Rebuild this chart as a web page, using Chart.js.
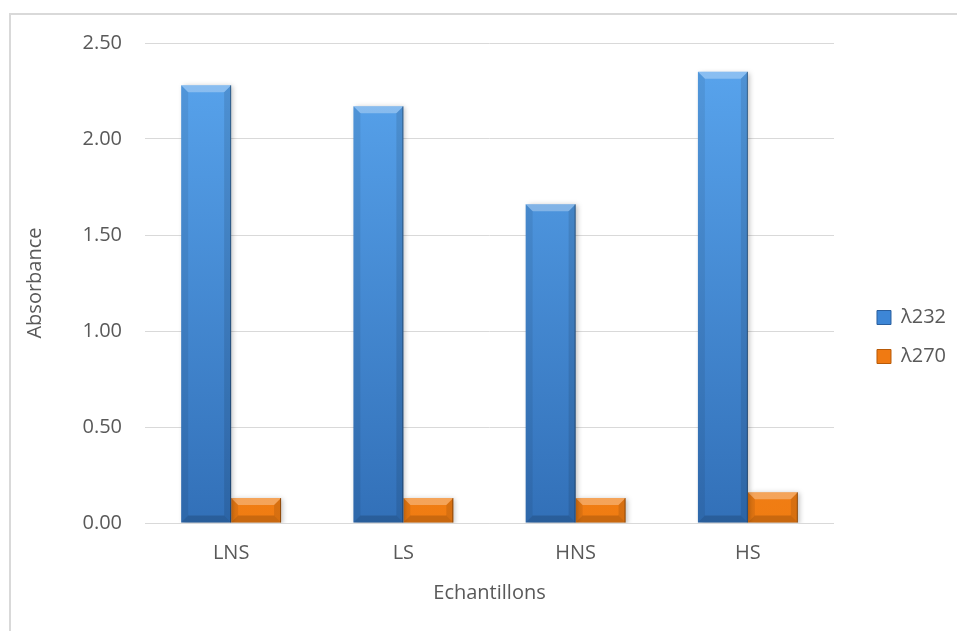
<!DOCTYPE html>
<html>
<head>
<meta charset="utf-8">
<script src="https://cdn.jsdelivr.net/npm/chart.js@4"></script>
<style>
  html, body { margin: 0; padding: 0; background: #fff; overflow: hidden; }
  #frame { position: absolute; left: 9px; top: 13px; width: 1000px; height: 700px;
           border-left: 2px solid #d9d9d9; border-top: 2px solid #d9d9d9; }
  #wrap { position: absolute; left: 0; top: 0; width: 957px; height: 631px; }
</style>
</head>
<body>
<div id="frame"></div>
<div id="wrap"><canvas id="c"></canvas></div>
<script>
// Samples and UV absorbance at 232 nm and 270 nm
const categories = ['LNS', 'LS', 'HNS', 'HS'];
const lambda232 = [2.28, 2.17, 1.66, 2.35];
const lambda270 = [0.13, 0.13, 0.13, 0.16];
const seriesNames = ['λ232', 'λ270'];
const yTicks = [0, 0.5, 1, 1.5, 2, 2.5];

const TEXT = '#595959';
const GRID = '#d9d9d9';
const FONT = "'Open Sans', 'DejaVu Sans', sans-serif";

const palettes = [
  { top: '#5aa6ef', bottom: '#3270b8', legend: '#3d86d6', edge: '#2a5f9e' },
  { top: '#f7902a', bottom: '#f07c12', legend: '#f07a12', edge: '#b85a08' }
];

function verticalGradient(i) {
  return (ctx) => {
    const ca = ctx.chart.chartArea;
    if (!ca) return palettes[i].bottom;
    const g = ctx.chart.ctx.createLinearGradient(0, ca.top, 0, ca.bottom);
    g.addColorStop(0, palettes[i].top);
    g.addColorStop(1, palettes[i].bottom);
    return g;
  };
}

function poly(ctx, pts, fill) {
  ctx.beginPath();
  ctx.moveTo(pts[0][0], pts[0][1]);
  for (let k = 1; k < pts.length; k++) ctx.lineTo(pts[k][0], pts[k][1]);
  ctx.closePath();
  ctx.fillStyle = fill;
  ctx.fill();
}

// Soft drop shadow under each bar plus a bevelled face on top of it
const bevelPlugin = {
  id: 'bevel',
  beforeDatasetDraw(chart) {
    const ctx = chart.ctx;
    ctx.save();
    ctx.shadowColor = 'rgba(0,0,0,0.25)';
    ctx.shadowBlur = 5;
    ctx.shadowOffsetX = 2;
    ctx.shadowOffsetY = 1;
  },
  afterDatasetDraw(chart, args) {
    const ctx = chart.ctx;
    ctx.restore();
    args.meta.data.forEach((bar) => {
      const { x, y, base, width } = bar.getProps(['x', 'y', 'base', 'width'], true);
      const l = x - width / 2, r = x + width / 2, t = Math.min(y, base), b0 = Math.max(y, base);
      const h = b0 - t;
      const b = Math.min(7, h / 2, width / 2);
      ctx.save();
      poly(ctx, [[l, t], [r, t], [r - b, t + b], [l + b, t + b]], 'rgba(255,255,255,0.3)');
      poly(ctx, [[l, t], [l + b, t + b], [l + b, b0 - b], [l, b0]], 'rgba(0,0,0,0.07)');
      poly(ctx, [[r, t], [r, b0], [r - b, b0 - b], [r - b, t + b]], 'rgba(0,0,0,0.10)');
      poly(ctx, [[l, b0], [l + b, b0 - b], [r - b, b0 - b], [r, b0]], 'rgba(0,0,0,0.16)');
      ctx.fillStyle = 'rgba(0,0,0,0.35)';
      ctx.fillRect(r - 1, t, 1, h);
      ctx.restore();
    });
  }
};

new Chart(document.getElementById('c'), {
  type: 'bar',
  data: {
    labels: categories,
    datasets: [
      { label: seriesNames[0], data: lambda232, backgroundColor: verticalGradient(0) },
      { label: seriesNames[1], data: lambda270, backgroundColor: verticalGradient(1) }
    ]
  },
  plugins: [bevelPlugin],
  options: {
    responsive: true,
    maintainAspectRatio: false,
    animation: false,
    layout: { padding: { left: 0, top: 43, right: 1, bottom: 0 } },
    datasets: { bar: { categoryPercentage: 0.58, barPercentage: 1.0, borderWidth: 0 } },
    plugins: {
      tooltip: { enabled: false },
      legend: {
        position: 'right',
        labels: {
          font: { family: FONT, size: 20 },
          color: TEXT,
          boxWidth: 14,
          boxHeight: 14,
          padding: 19,
          generateLabels: (chart) => chart.data.datasets.map((ds, i) => ({
            text: ds.label,
            fillStyle: palettes[i].legend,
            strokeStyle: palettes[i].edge,
            lineWidth: 1,
            fontColor: TEXT,
            hidden: false,
            datasetIndex: i
          }))
        }
      }
    },
    scales: {
      x: {
        grid: { display: false, drawTicks: false },
        border: { display: true, color: GRID, width: 1 },
        ticks: { color: TEXT, font: { family: FONT, size: 20 }, padding: 18 },
        title: { display: true, text: 'Echantillons', color: TEXT,
                 font: { family: FONT, size: 20 }, padding: { top: 0, bottom: 26 } },
        afterFit: (s) => { s.height = 108; }
      },
      y: {
        min: 0,
        max: 2.5,
        afterBuildTicks: (s) => { s.ticks = yTicks.map((v) => ({ value: v })); },
        grid: { color: GRID, lineWidth: 1, drawTicks: false },
        border: { display: false },
        ticks: { color: TEXT, font: { family: FONT, size: 20 }, padding: 23,
                 callback: (v) => Number(v).toFixed(2) },
        title: { display: true, text: 'Absorbance', color: TEXT,
                 font: { family: FONT, size: 20 }, padding: { top: 23, bottom: 0 } },
        afterFit: (s) => { s.width = 145; }
      },
      legendGap: {
        position: 'right',
        display: true,
        grid: { display: false, drawTicks: false },
        border: { display: false },
        ticks: { display: false },
        afterFit: (s) => { s.width = 24; }
      }
    }
  }
});
</script>
</body>
</html>
